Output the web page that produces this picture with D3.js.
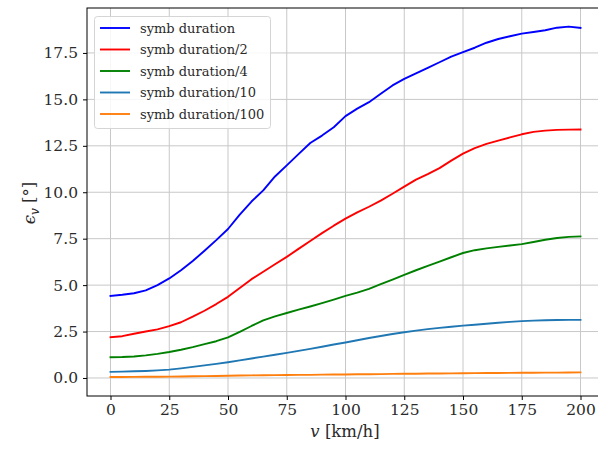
<!DOCTYPE html>
<html><head><meta charset="utf-8">
<script src="https://cdn.jsdelivr.net/npm/d3@7"></script>
<style>body{margin:0;background:#fff}svg{display:block}</style>
</head><body>
<script>
const speeds = [0,5,10,15,20,25,30,35,40,45,50,55,60,65,70,75,80,85,90,95,100,105,110,115,120,125,130,135,140,145,150,155,160,165,170,175,180,185,190,195,200];
const symbFull = [4.42,4.48,4.56,4.72,5.0,5.36,5.8,6.3,6.85,7.42,8.02,8.8,9.5,10.1,10.85,11.45,12.05,12.65,13.05,13.5,14.1,14.5,14.85,15.3,15.75,16.1,16.4,16.7,17.0,17.3,17.55,17.78,18.05,18.25,18.4,18.54,18.63,18.72,18.86,18.92,18.85];
const symbHalf = [2.19,2.25,2.38,2.5,2.62,2.79,3.0,3.3,3.62,3.98,4.37,4.85,5.32,5.72,6.12,6.52,6.95,7.38,7.8,8.2,8.58,8.92,9.22,9.55,9.92,10.3,10.68,10.98,11.3,11.7,12.08,12.38,12.6,12.78,12.95,13.12,13.25,13.32,13.36,13.37,13.38];
const symbQuarter = [1.12,1.13,1.16,1.22,1.3,1.4,1.52,1.66,1.82,1.98,2.19,2.48,2.8,3.1,3.32,3.5,3.68,3.85,4.03,4.22,4.42,4.6,4.8,5.05,5.3,5.55,5.8,6.04,6.27,6.5,6.73,6.88,6.98,7.06,7.13,7.21,7.32,7.44,7.54,7.6,7.62];
const symbTenth = [0.33,0.34,0.36,0.38,0.41,0.45,0.52,0.6,0.68,0.76,0.85,0.95,1.05,1.15,1.25,1.35,1.46,1.57,1.68,1.8,1.91,2.03,2.15,2.26,2.37,2.46,2.55,2.63,2.7,2.76,2.82,2.87,2.92,2.97,3.02,3.06,3.09,3.11,3.12,3.13,3.13];
const symbHundredth = [0.05,0.055,0.06,0.065,0.07,0.075,0.08,0.09,0.1,0.11,0.12,0.13,0.14,0.15,0.155,0.16,0.165,0.17,0.18,0.185,0.19,0.2,0.205,0.21,0.22,0.225,0.23,0.24,0.245,0.25,0.255,0.26,0.265,0.27,0.275,0.28,0.285,0.29,0.29,0.295,0.3];
const seriesNames = ["symb duration","symb duration/2","symb duration/4","symb duration/10","symb duration/100"];
const seriesColors = ["#0000ff","#ff0000","#008000","#1f77b4","#ff7f0e"];
const xTicks = [0,25,50,75,100,125,150,175,200];
const yTicks = [0,2.5,5,7.5,10,12.5,15,17.5];

const seriesValues = [symbFull, symbHalf, symbQuarter, symbTenth, symbHundredth];
const W = 598, H = 453;
const mLeft = 87, mRight = 604, mTop = 8, mBottom = 396;
const font = "'DejaVu Serif', 'Liberation Serif', serif";
const textColor = "#2a2a2a";

const svg = d3.select("body").append("svg").attr("width", W).attr("height", H);
const x = d3.scaleLinear().domain([-10, 210]).range([mLeft, mRight]);
const y = d3.scaleLinear().domain([-0.97, 19.92]).range([mBottom, mTop]);

// grid
const g = svg.append("g");
g.selectAll(".gx").data(xTicks).enter().append("line")
  .attr("x1", d => x(d)).attr("x2", d => x(d)).attr("y1", mTop).attr("y2", mBottom)
  .attr("stroke", "#c8c8c8").attr("stroke-width", 1);
g.selectAll(".gy").data(yTicks).enter().append("line")
  .attr("y1", d => y(d)).attr("y2", d => y(d)).attr("x1", mLeft).attr("x2", mRight)
  .attr("stroke", "#c8c8c8").attr("stroke-width", 1);

// lines
const line = d3.line().x((d, i) => x(speeds[i])).y(d => y(d));
seriesValues.forEach((vals, k) => {
  svg.append("path").datum(vals).attr("d", line)
    .attr("fill", "none").attr("stroke", seriesColors[k]).attr("stroke-width", 1.9)
    .attr("stroke-linejoin", "round").attr("stroke-linecap", "square");
});

// axes
const xAxis = svg.append("g").attr("transform", `translate(0,${mBottom})`)
  .call(d3.axisBottom(x).tickValues(xTicks).tickSize(4).tickPadding(4).tickFormat(d3.format("d")));
const yAxis = svg.append("g").attr("transform", `translate(${mLeft},0)`)
  .call(d3.axisLeft(y).tickValues(yTicks).tickSize(4).tickPadding(5).tickFormat(d3.format(".1f")));
[xAxis, yAxis].forEach(a => {
  a.attr("font-family", font).attr("font-size", 15.5);
  a.select(".domain").remove();
  a.selectAll("text").style("font-family", font).style("font-size", "15.5px").attr("fill", textColor);
  a.selectAll("line").attr("stroke", "#000");
});
// frame
svg.append("rect").attr("x", mLeft).attr("y", mTop).attr("width", mRight - mLeft).attr("height", mBottom - mTop)
  .attr("fill", "none").attr("stroke", "#000").attr("stroke-width", 1);

// axis labels
const xl = svg.append("text").attr("x", 345).attr("y", 437).attr("text-anchor", "middle")
  .style("font-family", font).style("font-size", "16.5px").attr("fill", textColor);
xl.append("tspan").attr("font-style", "italic").text("v");
xl.append("tspan").text(" [km/h]");

const yl = svg.append("text").attr("transform", "translate(35,203) rotate(-90)").attr("text-anchor", "middle")
  .style("font-family", font).style("font-size", "16.5px").attr("fill", textColor);
yl.append("tspan").attr("font-style", "italic").text("ϵ");
yl.append("tspan").attr("font-style", "italic").attr("font-size", 12).attr("dy", 4).text("v");
yl.append("tspan").attr("dy", -4).text(" [°]");

// legend
const lg = svg.append("g");
lg.append("rect").attr("x", 94.5).attr("y", 16.5).attr("width", 176).attr("height", 112).attr("rx", 3)
  .attr("fill", "#fff").attr("fill-opacity", 0.85).attr("stroke", "#d5d5d5");
seriesNames.forEach((n, k) => {
  const cy = 28 + k * 21.5;
  lg.append("line").attr("x1", 100).attr("x2", 130).attr("y1", cy).attr("y2", cy)
    .attr("stroke", seriesColors[k]).attr("stroke-width", 1.9);
  lg.append("text").attr("x", 140).attr("y", cy + 4.5).style("font-family", font).style("font-size", "13px")
    .attr("fill", textColor).text(n);
});
</script>
</body></html>
